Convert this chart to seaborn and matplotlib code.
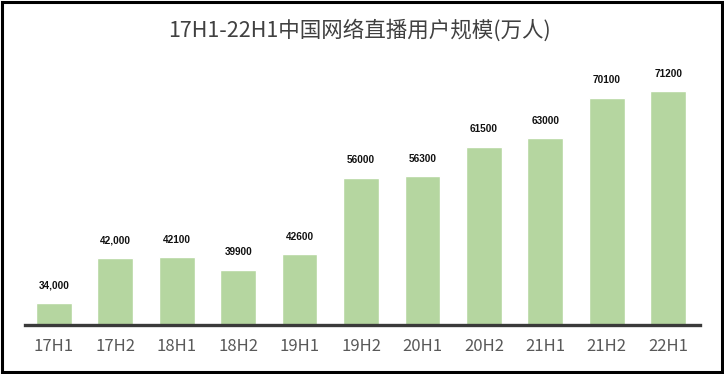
import matplotlib
matplotlib.use("Agg")
import matplotlib.pyplot as plt
import pandas as pd
import seaborn as sns
from matplotlib.patches import Rectangle

periods = ["17H1", "17H2", "18H1", "18H2", "19H1", "19H2",
           "20H1", "20H2", "21H1", "21H2", "22H1"]
users = [34000, 42000, 42100, 39900, 42600, 56000,
         56300, 61500, 63000, 70100, 71200]
value_labels = ["34,000", "42,000", "42100", "39900", "42600", "56000",
                "56300", "61500", "63000", "70100", "71200"]

df = pd.DataFrame({"period": periods, "users": users})

sns.set_theme(style="white")
plt.rcParams["font.family"] = ["Noto Sans CJK SC", "DejaVu Sans"]

fig = plt.figure(figsize=(7.24, 3.74), dpi=100)
ax = fig.add_axes([0.0345, 0.131, 0.9325, 0.71])

sns.barplot(data=df, x="period", y="users", order=periods,
            color="#B5D6A0", saturation=1, width=0.58, ax=ax)

ax.set_ylim(30200, 76800)
ax.set_xlim(-0.47, 10.52)

for i, (v, lab) in enumerate(zip(users, value_labels)):
    ax.annotate(lab, (i, v), xytext=(0, 9), textcoords="offset points",
                ha="center", va="bottom", fontsize=7.2, fontweight="bold",
                color="#111111", family=["Liberation Sans", "DejaVu Sans"])

for s in ["top", "left", "right"]:
    ax.spines[s].set_visible(False)
ax.spines["bottom"].set_color("#3a3a3a")
ax.spines["bottom"].set_linewidth(2.4)

ax.set_yticks([])
ax.set_xlabel("")
ax.set_ylabel("")
ax.tick_params(axis="x", length=0, pad=9, labelsize=12, labelcolor="#595959")

fig.text(0.496, 0.918, "17H1-22H1中国网络直播用户规模(万人)",
         ha="center", va="center", fontsize=15.5, color="#404040")

fig.patches.append(Rectangle((0.003, 0.005), 0.994, 0.99, transform=fig.transFigure,
                             fill=False, edgecolor="black", linewidth=2.2))

fig.savefig("out.png", dpi=100)
